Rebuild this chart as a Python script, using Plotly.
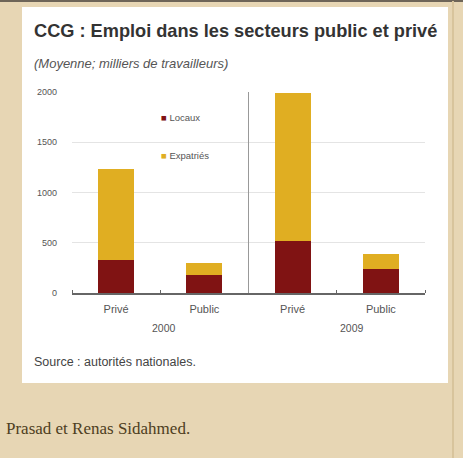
import plotly.graph_objects as go

# data (milliers de travailleurs)
sectors = ["Privé", "Public", "Privé", "Public"]
years = ["2000", "2000", "2009", "2009"]
locaux = [330, 180, 520, 240]
expatries = [900, 120, 1470, 150]

W, H = 463, 458
L, R, T, B = 72, 425, 92, 293   # plot area in pixels


def px(x):
    return (x - L) / (R - L)


def py(y):
    return (B - y) / (B - T)


pos = list(range(len(sectors)))

fig = go.Figure()

fig.add_trace(go.Bar(x=pos, y=locaux, name="Locaux",
                     marker=dict(color="#801313", line=dict(width=0)),
                     showlegend=False))
fig.add_trace(go.Bar(x=pos, y=expatries, name="Expatriés",
                     marker=dict(color="#E0AE22", line=dict(width=0)),
                     showlegend=False))

fig.update_layout(
    width=W, height=H,
    margin=dict(l=L, r=W - R, t=T, b=H - B),
    paper_bgcolor="#E7D6B4",
    plot_bgcolor="rgba(0,0,0,0)",
    barmode="stack",
    bargap=0.59,
    font=dict(family="Liberation Sans, Arial, sans-serif", color="#444"),
)

fig.update_xaxes(
    range=[-0.5, 3.5],
    tickvals=pos, ticktext=sectors,
    tickfont=dict(size=11, color="#555"),
    ticks="", showgrid=False, zeroline=False,
    showline=True, linecolor="#666", linewidth=1.5,
    ticklabelstandoff=5,
    minor=dict(tickvals=[-0.5, 0.5, 1.5, 2.5, 3.5], ticks="inside",
               ticklen=3, tickcolor="#666", showgrid=False),
)
fig.update_yaxes(
    range=[0, 2000], tickvals=[0, 500, 1000, 1500, 2000],
    tickfont=dict(size=9, color="#555"),
    showgrid=True, gridcolor="#E4E4E4", gridwidth=1,
    zeroline=False, showline=False, ticklabelstandoff=14,
)

shapes = [
    # white panel
    dict(type="rect", xref="paper", yref="paper", layer="below",
         x0=px(22), x1=px(448), y0=py(383), y1=py(7),
         fillcolor="white", line=dict(width=0)),
    # frame edges of the page
    dict(type="line", xref="paper", yref="paper",
         x0=px(0), x1=px(463), y0=py(1), y1=py(1),
         line=dict(color="#6E6558", width=2)),
    dict(type="line", xref="paper", yref="paper",
         x0=px(453), x1=px(453), y0=py(1), y1=py(458),
         line=dict(color="#D8C49C", width=2)),
    # group divider
    dict(type="line", xref="x", yref="y", x0=1.5, x1=1.5, y0=0, y1=2000,
         line=dict(color="#999", width=1)),
]

annotations = [
    dict(text="<b>CCG : Emploi dans les secteurs public et privé</b>",
         x=px(32), y=py(31), xanchor="left", yanchor="middle",
         font=dict(size=18.2, color="#333")),
    dict(text="<i>(Moyenne; milliers de travailleurs)</i>",
         x=px(32), y=py(63), xanchor="left", yanchor="middle",
         font=dict(size=13, color="#555")),
    dict(text="Source : autorités nationales.",
         x=px(32), y=py(362), xanchor="left", yanchor="middle",
         font=dict(size=12.5, color="#444")),
    dict(text="Prasad et Renas Sidahmed.",
         x=px(4), y=py(428), xanchor="left", yanchor="middle",
         font=dict(size=17, color="#4E3E22",
                   family="Liberation Serif, Times New Roman, serif")),
    # legend
    dict(text="<span style='color:#801313'>■</span> Locaux",
         x=px(159), y=py(117), xanchor="left", yanchor="middle",
         font=dict(size=9.5, color="#555")),
    dict(text="<span style='color:#E0AE22'>■</span> Expatriés",
         x=px(159), y=py(155), xanchor="left", yanchor="middle",
         font=dict(size=9.5, color="#555")),
]

# year labels under each group
for yr, xs, shift in [("2000", [0, 1], 4), ("2009", [2, 3], 15)]:
    annotations.append(dict(text=yr, xref="x", yref="paper",
                            x=sum(xs) / 2, y=py(328), xshift=shift,
                            xanchor="center", yanchor="middle",
                            showarrow=False,
                            font=dict(size=10.5, color="#555")))

for a in annotations:
    a.setdefault("xref", "paper")
    a.setdefault("yref", "paper")
    a.setdefault("showarrow", False)

fig.update_layout(shapes=shapes, annotations=annotations)

fig.write_html("out.html", config={"displayModeBar": False},
               post_script="document.body.style.margin='0';"
                           "document.body.style.background='#E7D6B4';")
